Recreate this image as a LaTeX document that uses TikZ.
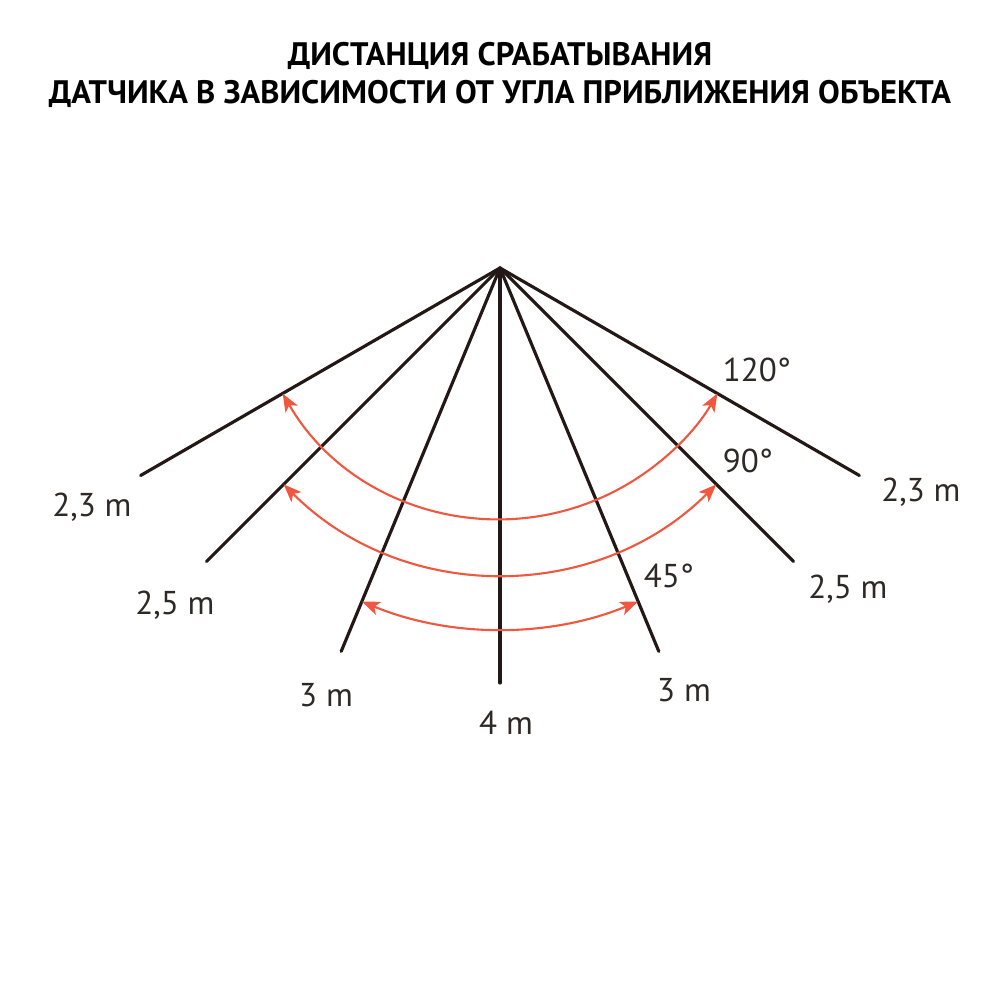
\documentclass[tikz,border=0pt]{standalone}
\usepackage{fontspec}
\setmainfont{PT Sans}
\usetikzlibrary{arrows.meta}
\definecolor{raycol}{HTML}{231815}
\definecolor{arccol}{HTML}{F0573F}
\definecolor{txtcol}{HTML}{2E2826}
\begin{document}
\begin{tikzpicture}[x=0.02cm, y=0.02cm,
  ray/.style={line width=1.8pt, draw=raycol, line cap=round},
  sweep/.style={line width=1.2pt, draw=arccol,
    {Stealth[length=0.36cm,width=0.28cm,inset=0.09cm]}-{Stealth[length=0.36cm,width=0.28cm,inset=0.09cm]}},
  dist/.style={text=txtcol, font=\fontsize{18.8}{22}\selectfont, inner sep=0pt},
  heading/.style={text=black, font=\bfseries\fontsize{18.5}{22}\selectfont, inner sep=0pt, anchor=base}]

\useasboundingbox (0,0) rectangle (1000,1000);

\node[heading] (title1) at (500,934) {ДИСТАНЦИЯ СРАБАТЫВАНИЯ};
\node[heading] (title2) at (500,896) {ДАТЧИКА В ЗАВИСИМОСТИ ОТ УГЛА ПРИБЛИЖЕНИЯ ОБЪЕКТА};

\coordinate (apex) at (500,732);
\foreach \a/\n in {-150/1,-135/2,-112.5/3,-90/4,-67.5/5,-45/6,-30/7}
  \draw[ray] (apex) -- ([shift={(\a:415)}]apex) coordinate (end\n);

% sweep arcs
\draw[sweep] ([shift={(-150:251)}]apex) arc[start angle=-150, end angle=-30, radius=251];
\draw[sweep] ([shift={(-135:306)}]apex) arc[start angle=-135, end angle=-45, radius=306];
\draw[sweep] ([shift={(-112.5:361)}]apex) arc[start angle=-112.5, end angle=-67.5, radius=361];

\node[dist] (d1) at (92,493) {2,3 m};
\node[dist] (d2) at (175,395) {2,5 m};
\node[dist] (d3) at (326,305) {3 m};
\node[dist] (d4) at (506,277) {4 m};
\node[dist] (d5) at (684,310) {3 m};
\node[dist] (d6) at (848,411) {2,5 m};
\node[dist] (d7) at (921,508) {2,3 m};

\node[dist] (a120) at (757,630) {120°};
\node[dist] (a90) at (748,539) {90°};
\node[dist] (a45) at (669,424) {45°};

\end{tikzpicture}
\end{document}
